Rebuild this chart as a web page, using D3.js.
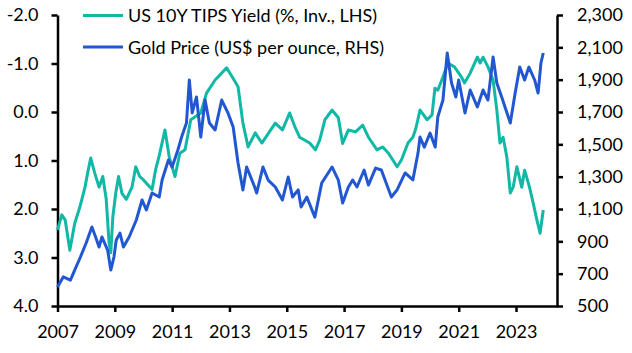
<!DOCTYPE html>
<html>
<head>
<meta charset="utf-8">
<script src="https://cdn.jsdelivr.net/npm/d3@7"></script>
<style>
  body { margin: 0; background: #fff; }
  svg { font-family: "Lato", "Open Sans", sans-serif; }
</style>
</head>
<body>
<svg width="632" height="353"></svg>
<script>
// TIPS yield (%, plotted inverted on the left axis)
const tipsDates = [2007.0, 2007.15, 2007.27, 2007.43, 2007.6, 2007.78, 2007.96, 2008.05, 2008.16, 2008.3,
  2008.45, 2008.58, 2008.7, 2008.8, 2008.86, 2008.93, 2009.03, 2009.13, 2009.25, 2009.4,
  2009.6, 2009.73, 2009.87, 2010.0, 2010.3, 2010.42, 2010.55, 2010.75, 2010.9, 2011.1,
  2011.27, 2011.45, 2011.65, 2012.0, 2012.2, 2012.5, 2012.9, 2013.1, 2013.3, 2013.47,
  2013.65, 2013.9, 2014.13, 2014.6, 2014.85, 2015.1, 2015.28, 2015.45, 2015.8, 2016.0,
  2016.15, 2016.33, 2016.58, 2016.8, 2016.95, 2017.15, 2017.4, 2017.65, 2017.85, 2018.15,
  2018.35, 2018.55, 2018.85, 2019.0, 2019.23, 2019.4, 2019.5, 2019.65, 2019.9, 2020.07,
  2020.17, 2020.27, 2020.45, 2020.62, 2020.85, 2021.1, 2021.2, 2021.4, 2021.65, 2021.75,
  2021.85, 2022.02, 2022.2, 2022.33, 2022.44, 2022.55, 2022.68, 2022.8, 2022.9, 2023.03,
  2023.2, 2023.3, 2023.47, 2023.6, 2023.73, 2023.84, 2023.95];
const tipsValues = [2.43, 2.12, 2.23, 2.85, 2.3, 1.96, 1.55, 1.26, 0.95, 1.26,
  1.55, 1.33, 1.8, 2.7, 2.9, 2.17, 1.68, 1.33, 1.68, 1.8,
  1.55, 1.13, 1.33, 1.4, 1.6, 1.2, 0.9, 0.37, 0.93, 1.33,
  0.85, 0.78, 0.16, 0.02, -0.39, -0.66, -0.91, -0.72, -0.52, 0.23,
  0.72, 0.43, 0.64, 0.23, 0.37, 0.02, 0.3, 0.52, 0.64, 0.78,
  0.58, 0.16, -0.04, 0.12, 0.65, 0.37, 0.41, 0.27, 0.52, 0.78,
  0.72, 0.85, 1.13, 0.99, 0.64, 0.52, 0.35, -0.04, 0.16, 0.06,
  -0.49, -0.45, -0.72, -1.01, -0.93, -0.72, -0.6, -0.8, -1.13, -1.01,
  -1.13, -0.93, -0.66, -0.04, 0.64, 0.52, 0.93, 1.67, 1.55, 1.13,
  1.55, 1.2, 1.55, 1.88, 2.23, 2.5, 2.02];

// Gold price (US$ per ounce, right axis)
const goldDates = [2007.0, 2007.2, 2007.45, 2007.6, 2007.8, 2008.0, 2008.2, 2008.33, 2008.45, 2008.55,
  2008.75, 2008.86, 2008.97, 2009.05, 2009.18, 2009.3, 2009.5, 2009.75, 2009.95, 2010.1,
  2010.3, 2010.55, 2010.65, 2010.87, 2011.0, 2011.2, 2011.33, 2011.5, 2011.6, 2011.7,
  2011.85, 2012.0, 2012.15, 2012.3, 2012.5, 2012.73, 2012.95, 2013.13, 2013.3, 2013.47,
  2013.6, 2013.88, 2013.95, 2014.17, 2014.35, 2014.6, 2014.85, 2015.05, 2015.2, 2015.4,
  2015.5, 2015.7, 2015.98, 2016.22, 2016.58, 2016.8, 2016.95, 2017.15, 2017.3, 2017.45,
  2017.7, 2017.85, 2018.1, 2018.3, 2018.65, 2018.85, 2019.13, 2019.4, 2019.58, 2019.65,
  2019.8, 2020.0, 2020.18, 2020.27, 2020.45, 2020.6, 2020.75, 2020.9, 2021.0, 2021.22,
  2021.4, 2021.65, 2021.85, 2022.02, 2022.2, 2022.33, 2022.5, 2022.65, 2022.8, 2022.97,
  2023.13, 2023.3, 2023.45, 2023.65, 2023.77, 2023.87, 2023.95];
const goldValues = [618, 680, 660, 722, 803, 890, 989, 927, 865, 927,
  846, 722, 803, 908, 951, 865, 927, 1032, 1156, 1094,
  1199, 1174, 1279, 1403, 1360, 1465, 1545, 1632, 1898, 1694,
  1793, 1545, 1774, 1632, 1589, 1774, 1694, 1607, 1385, 1218,
  1360, 1236, 1199, 1360, 1279, 1236, 1156, 1298, 1174, 1218,
  1112, 1174, 1050, 1261, 1360, 1279, 1137, 1236, 1279, 1236,
  1341, 1248, 1353, 1341, 1174, 1218, 1323, 1280, 1446, 1545,
  1483, 1570, 1483, 1669, 1774, 2065, 1879, 1793, 1898, 1694,
  1836, 1731, 1836, 1774, 2040, 1879, 1793, 1712, 1632, 1817,
  1978, 1898, 1978, 1898, 1817, 2003, 2065];

const yearTicks = [2007, 2009, 2011, 2013, 2015, 2017, 2019, 2021, 2023];
const leftTicks = [-2, -1, 0, 1, 2, 3, 4];
const rightTicks = [500, 700, 900, 1100, 1300, 1500, 1700, 1900, 2100, 2300];
const seriesNames = ["US 10Y TIPS Yield (%, Inv., LHS)", "Gold Price (US$ per ounce, RHS)"];

const teal = "#10b8a5";
const blue = "#2157d0";

const svg = d3.select("svg");
const plotLeft = 57.5, plotRight = 557, plotTop = 15, plotBottom = 306;

const x = d3.scaleLinear().domain([2007, 2024.43]).range([plotLeft, plotRight]);
const yL = d3.scaleLinear().domain([-2, 4]).range([plotTop, plotBottom]);
const yR = d3.scaleLinear().domain([500, 2300]).range([plotBottom, plotTop]);

// plain hyphen for negatives, like the original
const leftFmt = d => d3.format(".1f")(d).replace("\u2212", "-");

// axes
const xAxis = svg.append("g")
  .attr("transform", `translate(0, ${plotBottom})`)
  .call(d3.axisBottom(x).tickValues(yearTicks).tickFormat(d3.format("d")).tickSize(6).tickSizeOuter(0));
const lAxis = svg.append("g")
  .attr("transform", `translate(${plotLeft}, 0)`)
  .call(d3.axisLeft(yL).tickValues(leftTicks).tickFormat(leftFmt).tickSize(6).tickSizeOuter(0));
const rAxis = svg.append("g")
  .attr("transform", `translate(${plotRight}, 0)`)
  .call(d3.axisRight(yR).tickValues(rightTicks).tickFormat(d3.format(",")).tickSize(6).tickSizeOuter(0));

[xAxis, lAxis, rAxis].forEach(a => {
  a.select(".domain").attr("stroke", "#000").attr("stroke-width", 2.5);
  a.selectAll(".tick line").attr("stroke", "#000").attr("stroke-width", 2.5);
  a.selectAll(".tick text").attr("fill", "#000").style("font-size", "18px")
    .style("font-family", "Lato, 'Open Sans', sans-serif");
});
xAxis.selectAll(".tick text").attr("dy", "1.25em");
lAxis.selectAll(".tick text").attr("x", -19);
rAxis.selectAll(".tick text").attr("x", 20);

// lines
const tipsLine = d3.line()
  .x((d, i) => x(tipsDates[i]))
  .y(d => yL(d));
const goldLine = d3.line()
  .x((d, i) => x(goldDates[i]))
  .y(d => yR(d));

svg.append("path")
  .attr("d", tipsLine(tipsValues))
  .attr("fill", "none")
  .attr("stroke", teal)
  .attr("stroke-width", 3)
  .attr("stroke-linejoin", "round");

svg.append("path")
  .attr("d", goldLine(goldValues))
  .attr("fill", "none")
  .attr("stroke", blue)
  .attr("stroke-width", 3)
  .attr("stroke-linejoin", "round");

// legend
const legend = svg.selectAll(".legend")
  .data(seriesNames)
  .enter().append("g")
  .attr("class", "legend")
  .attr("transform", (d, i) => `translate(83, ${15.5 + i * 31.5})`);

legend.append("line")
  .attr("x1", 0).attr("x2", 40)
  .attr("stroke", (d, i) => i === 0 ? teal : blue)
  .attr("stroke-width", 3);

legend.append("text")
  .attr("x", 45)
  .attr("y", 6.5)
  .style("font-size", "18px")
  .attr("fill", "#000")
  .text(d => d);
</script>
</body>
</html>
